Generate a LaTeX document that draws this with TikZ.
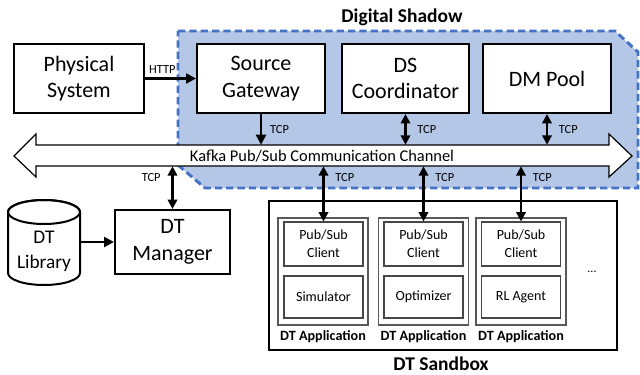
\documentclass[tikz,border=0pt]{standalone}
\usepackage{fontspec}
\setmainfont{Carlito}
\usetikzlibrary{arrows.meta}
\definecolor{dsfill}{HTML}{B4C7E7}
\definecolor{dsline}{HTML}{4472C4}
\definecolor{appgray}{HTML}{595959}
\begin{document}
\begin{tikzpicture}[x=0.75pt,y=-0.75pt,
  bigbox/.style={draw, line width=1.5pt, fill=white, align=center, inner sep=0pt,
    font=\fontsize{16.5}{20}\selectfont, minimum height=51.75pt},
  appbox/.style={draw=appgray, line width=1.3pt, fill=white, minimum width=67.5pt, minimum height=80.25pt},
  inbox/.style={draw=appgray!80!black, line width=0.8pt, fill=white, align=center, inner sep=0pt,
    minimum width=59.25pt, font=\fontsize{10.5}{13.5}\selectfont},
  lbl/.style={font=\fontsize{9.3}{10}\selectfont, inner sep=1pt},
  applbl/.style={font=\bfseries\fontsize{10.6}{12}\selectfont, inner sep=0pt},
  title/.style={font=\bfseries\fontsize{14.6}{16}\selectfont, inner sep=0pt},
  arr/.style={line width=1.8pt, -{Triangle[length=7.5pt,width=7.5pt]}},
  darr/.style={line width=1.8pt, {Triangle[length=7pt,width=7pt]}-{Triangle[length=7pt,width=7pt]}},
]
% canvas
\fill[white] (0,0) rectangle (640,375);
\useasboundingbox (0,0) rectangle (640,375);

% Digital Shadow region
\draw[fill=dsfill, draw=dsline, line width=2.2pt, dash pattern=on 5.5pt off 3pt]
  (178,31) -- (615,31) -- (638,52) -- (638,188) -- (205,188) -- (178,165) -- cycle;
\node[title] (dstitle) at (402,17) {Digital Shadow};

% Kafka channel (double arrow)
\draw[line width=0.9pt, fill=white]
  (14,156) -- (36,134) -- (36,145) -- (609,145) -- (609,134) -- (632,156)
  -- (609,177) -- (609,166) -- (36,166) -- (36,177) -- cycle;
\node[minimum width=429.75pt, minimum height=15.75pt, inner sep=0pt] (kafka) at (322.5,155.5) {};
\node[font=\fontsize{12.3}{14}\selectfont, inner sep=0pt] (kafkatxt) at (322,156)
  {Kafka Pub/Sub Communication Channel};

% top row
\node[bigbox, minimum width=97.5pt] (phys) at (79,78.5) {Physical\\System};
\node[bigbox, minimum width=96pt] (sg) at (261,78.5) {Source\\Gateway};
\node[bigbox, minimum width=95.25pt] (dsc) at (405.5,78.5) {DS\\Coordinator};
\node[bigbox, minimum width=96pt] (dm) at (547,78.5) {DM Pool};

% DT manager and library
\node[bigbox, minimum width=86.25pt, minimum height=48pt] (dtm) at (172.5,242) {DT\\Manager};
\node[minimum width=54pt, minimum height=63.75pt, inner sep=0pt] (lib) at (44,242) {};
\draw[line width=1.5pt, fill=white]
  (8,212) -- (8,273) arc[start angle=180, end angle=0, x radius=36, y radius=12]
  -- (80,212) arc[start angle=0, end angle=-180, x radius=36, y radius=12] -- cycle;
\draw[line width=1.5pt] (44,212) ellipse[x radius=36, y radius=12];
\node[align=center, inner sep=0pt, font=\fontsize{14.5}{18.75}\selectfont] (libtxt) at (44,251) {DT\\Library};

% DT sandbox
\node[draw, line width=1.5pt, fill=white, minimum width=261pt, minimum height=111.75pt] (sandbox) at (443,275.5) {};
\node[title] (sbtitle) at (441,364) {DT Sandbox};

\node[appbox] (app1) at (323,271.5) {};
\node[appbox] (app2) at (423.5,271.5) {};
\node[appbox] (app3) at (521,271.5) {};

\node[inbox, minimum height=33pt] (c1) at (323.5,244) {Pub/Sub\\Client};
\node[inbox, minimum height=31.5pt] (s1) at (323.5,297) {Simulator};
\node[inbox, minimum height=33pt] (c2) at (423.5,244) {Pub/Sub\\Client};
\node[inbox, minimum height=31.5pt] (s2) at (423.5,297) {Optimizer};
\node[inbox, minimum height=33pt] (c3) at (521,244) {Pub/Sub\\Client};
\node[inbox, minimum height=31.5pt] (s3) at (521,297) {RL Agent};

\node[applbl] (a1lbl) at (323,337) {DT Application};
\node[applbl] (a2lbl) at (423.5,337) {DT Application};
\node[applbl] (a3lbl) at (521,337) {DT Application};
\node[font=\fontsize{9}{10}\selectfont, inner sep=0pt] (more) at (592,272) {...};

% connectors
\draw[arr] (phys.east) -- (sg.west) node[lbl, pos=0.34, above=2pt] {HTTP};
\draw[arr] (sg.south) -- (sg.south |- kafka.north) node[lbl, midway, right=5pt] {TCP};
\draw[darr] (dsc.south) -- (dsc.south |- kafka.north) node[lbl, midway, right=7pt] {TCP};
\draw[darr] (dm.south) -- (dm.south |- kafka.north) node[lbl, midway, right=7pt] {TCP};
\draw[darr] (dtm.north) -- (dtm.north |- kafka.south) node[lbl, pos=0.73, left=7pt] {TCP};
\draw[arr] (lib.east) -- (dtm.west);
\draw[darr] (c1.north) -- (c1.north |- kafka.south) node[lbl, pos=0.79, right=7pt] {TCP};
\draw[darr] (c2.north) -- (c2.north |- kafka.south) node[lbl, pos=0.79, right=7pt] {TCP};
\draw[darr] (c3.north) -- (c3.north |- kafka.south) node[lbl, pos=0.79, right=7pt] {TCP};
\end{tikzpicture}
\end{document}
